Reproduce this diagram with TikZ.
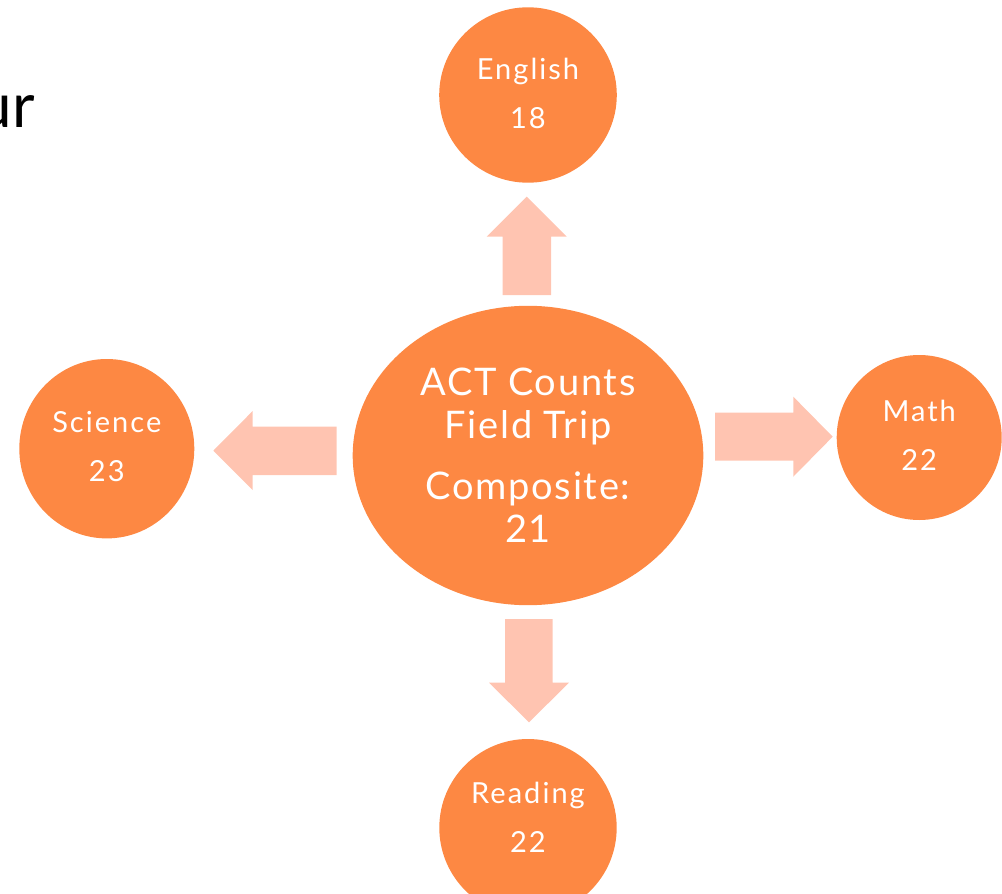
\documentclass[tikz,border=0pt]{standalone}
\usepackage{fontspec}
\setmainfont{Lato}
\newfontfamily\bigbub[LetterSpace=4.5]{Lato}
\newfontfamily\smallbub[LetterSpace=7]{Lato}
\usetikzlibrary{shapes.geometric}
\definecolor{orng}{HTML}{FD8843}
\definecolor{pch}{HTML}{FFC4B1}
\begin{document}
\begin{tikzpicture}[x=1pt,y=-1pt,
  bub/.style={ellipse, fill=orng, text=white, align=center, inner sep=0pt},
  small/.style={bub, font=\smallbub\fontsize{29}{49}\selectfont},
  lbl/.style={text=white, align=center, inner sep=0pt, font=\smallbub\fontsize{29}{49}\selectfont},
  blk/.style={fill=pch}]
\useasboundingbox (0,0) rectangle (1002,894);
\clip (0,0) rectangle (1002,894);
\node[anchor=base east, font=\fontsize{62}{62}\selectfont, inner sep=0pt] (ur) at (35,127.3) {ur};
\node[bub, minimum width=350.6pt, minimum height=299.4pt, font=\bigbub\fontsize{38}{43}\selectfont] (c) at (528,455.5) {ACT Counts\\Field Trip\\[18pt]Composite:\\21};
\node[small, minimum width=177.6pt, minimum height=175.4pt] (eng) at (528,95) {};
\node[lbl] (engt) at (528,93) {English\\18};
\node[small, minimum width=175pt, minimum height=179.4pt] (sci) at (106.8,448.7) {};
\node[lbl] (scit) at (106.8,446.5) {Science\\23};
\node[small, minimum width=165pt, minimum height=165pt] (math) at (919.2,437.5) {};
\node[lbl] (matht) at (919.2,435.5) {Math\\22};
\node[small, minimum width=177.4pt, minimum height=177.4pt] (read) at (528,827.7) {};
\node[lbl] (readt) at (528,817) {Reading\\22};
\fill[blk] (502.7,295) -- (502.7,236.7) -- (486.7,236.7) -- (526.7,196.7) -- (566.7,236.7) -- (551,236.7) -- (551,295) -- cycle;
\fill[blk] (336.7,426.7) -- (252.7,426.7) -- (252.7,411) -- (213.3,450.7) -- (252.7,490) -- (252.7,475) -- (336.7,475) -- cycle;
\fill[blk] (715,412.7) -- (793.3,412.7) -- (793.3,396.7) -- (832.7,436.7) -- (793.3,476.7) -- (793.3,460.7) -- (715,460.7) -- cycle;
\fill[blk] (505,619) -- (552.7,619) -- (552.7,682.7) -- (569,682.7) -- (529,722.3) -- (489,682.7) -- (505,682.7) -- cycle;
\end{tikzpicture}
\end{document}
